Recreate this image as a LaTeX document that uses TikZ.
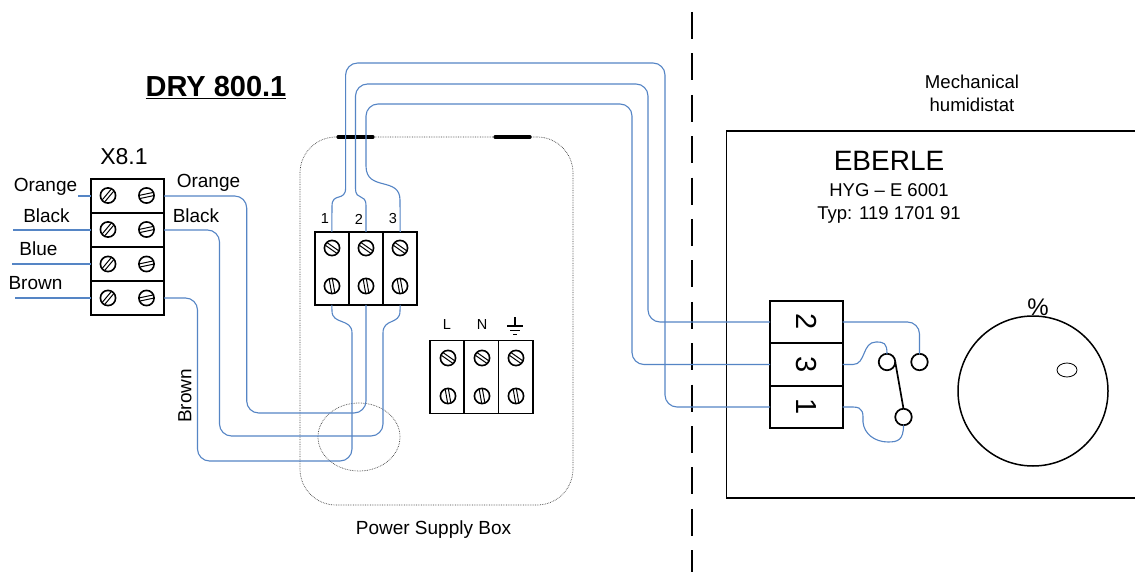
\documentclass[tikz,border=0pt]{standalone}
\usepackage{fontspec}
\setmainfont{Liberation Sans}
\usetikzlibrary{shapes.geometric}
\definecolor{wireblue}{HTML}{5585C5}
\tikzset{
  x=1pt,y=-1pt,
  wire/.style={draw=wireblue,line width=1.1pt},
  round/.style={rounded corners=12pt},
  cell/.style={draw=black,line width=1.9pt,rectangle,inner sep=0pt,outer sep=0pt},
  xcell/.style={cell,minimum width=73pt,minimum height=34pt},
  tcell/.style={cell,minimum width=34.2pt,minimum height=73pt},
  hcell/.style={cell,minimum width=72.5pt,minimum height=42.3pt,font=\fontsize{29}{29}\selectfont},
  lab/.style={inner sep=0pt,outer sep=0pt,font=\fontsize{19}{19}\selectfont},
  smalllab/.style={inner sep=0pt,outer sep=0pt,font=\fontsize{14.5}{15}\selectfont},
  contact/.style={draw=black,line width=1.7pt,circle,inner sep=0pt,outer sep=0pt,minimum size=16.5pt,fill=white},
  dotbox/.style={draw=black!75,line width=.7pt,densely dotted},
  bar/.style={draw=black,line width=3.2pt,line cap=round},
  pics/screw/.style={code={
    \draw[line width=1.6pt,fill=white] (0,0) circle[radius=7.6pt];
    \begin{scope}[rotate=#1]
      \draw[line width=1pt] (-6.9pt,1.6pt) -- (6.9pt,1.6pt) (-6.9pt,-1.6pt) -- (6.9pt,-1.6pt);
    \end{scope}
  }}
}
\begin{document}
\begin{tikzpicture}
\useasboundingbox (0,0) rectangle (1135,572);
\fill[white] (0,0) rectangle (1135,572);

% title and free labels
\node[lab,font=\fontsize{29}{29}\selectfont\bfseries] (title) at (216,87.5) {\underline{DRY 800.1}};
\node[lab,font=\fontsize{23}{23}\selectfont] (xname) at (124,157) {X8.1};
\node[lab] (lo) at (45.5,187) {Orange};
\node[lab] (lk) at (46.5,215.5) {Black};
\node[lab] (lb) at (38.5,249) {Blue};
\node[lab] (lw) at (35.5,283.5) {Brown};
\node[lab] (ro) at (208.5,182.5) {Orange};
\node[lab] (rk) at (196,215.5) {Black};
\node[lab,rotate=90] (rw) at (185,396) {Brown};
\node[lab] (psb) at (433.5,530) {Power Supply Box};
\node[lab,font=\fontsize{18.6}{19}\selectfont] (mech) at (972,81.5) {Mechanical};
\node[lab,font=\fontsize{18.6}{19}\selectfont] (humi) at (972,105) {humidistat};
\node[lab,font=\fontsize{28}{28}\selectfont] (ebe) at (889,161) {EBERLE};
\node[lab,font=\fontsize{18.5}{19}\selectfont] (hyg) at (889,190) {HYG – E 6001};
\node[lab,font=\fontsize{18.5}{19}\selectfont] (typ) at (889,214.5) {Typ: 119 1701 91};
\node[lab,font=\fontsize{24}{24}\selectfont] (pct) at (1038,307) {\%};

% power supply box and humidistat outline
\node[dotbox,rectangle,rounded corners=36pt,minimum width=273pt,minimum height=368pt,inner sep=0pt] (psbox) at (436.5,321) {};
\node[dotbox,ellipse,minimum width=82pt,minimum height=68pt,inner sep=0pt] (ell) at (359,437) {};
\draw[bar] (338,137) -- (373,137);
\draw[bar] (495,137) -- (530,137);
\coordinate (dtop) at (692,12);
\coordinate (dbot) at (692,572);
\draw[line width=1.8pt,dash pattern=on 27pt off 14.4pt] (dtop) -- (dbot);
\coordinate (hbr) at (1135,498);
\coordinate (hbl) at (726.5,498);
\coordinate (htl) at (726.5,131);
\coordinate (htr) at (1135,131);
\draw[line width=1.8pt] (htr) -- (htl) -- (hbl) -- (hbr);

% X8.1 terminal
\node[xcell] (x1) at (127.5,196) {};
\node[xcell] (x2) at (127.5,230) {};
\node[xcell] (x3) at (127.5,264) {};
\node[xcell] (x4) at (127.5,298) {};
\foreach \y in {195.5,229.5,264,298}{
  \pic at (108,\y) {screw=50};
  \pic at (146.5,\y) {screw=12};
}

% 3-way terminal wired
\node[tcell] (t1) at (331.8,268.3) {};
\node[tcell] (t2) at (366,268.3) {};
\node[tcell] (t3) at (400.2,268.3) {};
\foreach \x in {332,366,400}{
  \pic at (\x,248) {screw=-35};
  \pic at (\x,286) {screw=100};
}
\node[smalllab] (n1) at (325,219) {1};
\node[smalllab] (n2) at (359,219) {2};
\node[smalllab] (n3) at (393,219) {3};

% 3-way mains terminal
\node[tcell] (m1) at (447.2,377) {};
\node[tcell] (m2) at (481.4,377) {};
\node[tcell] (m3) at (515.6,377) {};
\foreach \x in {448,482,516}{
  \pic at (\x,358) {screw=-35};
  \pic at (\x,396) {screw=100};
}
\node[smalllab] (nl) at (447,325) {L};
\node[smalllab] (nn) at (482,325) {N};
\draw[line width=1.1pt] (515,317) -- (515,326) (507,326) -- (523,326) (510,330.3) -- (520,330.3) (513,334.3) -- (517,334.3);

% humidistat terminal
\node[hcell] (h2) at (806.3,322) {\rotatebox{-90}{2}\hspace{2pt}};
\node[hcell] (h3) at (806.3,364.5) {\rotatebox{-90}{3}\hspace{2pt}};
\node[hcell] (h1) at (806.3,407) {\rotatebox{-90}{1}\hspace{2pt}};

% switch
\node[contact] (c3) at (887,362) {};
\node[contact] (c2) at (919.5,362) {};
\node[contact] (c1) at (903.5,417) {};
\draw[line width=1.7pt] (c3.east) -- (c1.north);

% dial
\node[draw=black,line width=1.5pt,circle,minimum size=150pt,inner sep=0pt] (dial) at (1033,391) {};
\node[draw=black,line width=.8pt,ellipse,minimum width=20pt,minimum height=14pt,inner sep=0pt] (knob) at (1067,370) {};

% free wire ends
\coordinate (e1) at (78,196);
\coordinate (e2) at (13,230);
\coordinate (e3) at (12,264);
\coordinate (e4) at (15,298);
\draw[wire] (e1) -- (x1.west);
\draw[wire] (e2) -- (x2.west);
\draw[wire] (e3) -- (x3.west);
\draw[wire] (e4) -- (x4.west);

% wires from X8.1 to the terminal
\draw[wire,round] (x1.east) -- (246.7,196) -- (246.7,413) -- (366,413) -- (t2.south);
\draw[wire] (t3.south) -- (400,311) .. controls (400,325) and (383,318) .. (383,333) [round] -- (383,436) -- (219.5,436) -- (219.5,230) -- (x2.east);
\draw[wire] (t1.south) -- (332,311) .. controls (332,325) and (352,318) .. (352,333) [round] -- (352,461) -- (197.5,461) -- (197.5,298) -- (x4.east);

% wires from the terminal to the humidistat
\draw[wire] (t1.north) -- (332,206) .. controls (332,192) and (345.6,202) .. (345.6,188) [round] -- (345.6,63) -- (665,63) -- (665,407) -- (h1.west);
\draw[wire] (t2.north) -- (366,206) .. controls (366,192) and (355.5,202) .. (355.5,188) [round] -- (355.5,84) -- (648,84) -- (648,322) -- (h2.west);
\draw[wire] (t3.north) -- (400,200) .. controls (400,176) and (366,192) .. (366,166) [round] -- (366,104) -- (632,104) -- (632,364.5) -- (h3.west);

% wires inside the humidistat
\draw[wire,round] (h2.east) -- (919.5,322) -- (c2.north);
\draw[wire] (h3.east) -- (853,364.5) .. controls (866,364.5) and (862,342) .. (876,342) .. controls (884,342) and (887,343) .. (c3.north);
\draw[wire] (h1.east) -- (853,407) .. controls (864,407) and (863,414) .. (863,422) .. controls (864,434) and (875,442) .. (888,442) .. controls (898,442) and (903.5,440) .. (c1.south);
\end{tikzpicture}
\end{document}
